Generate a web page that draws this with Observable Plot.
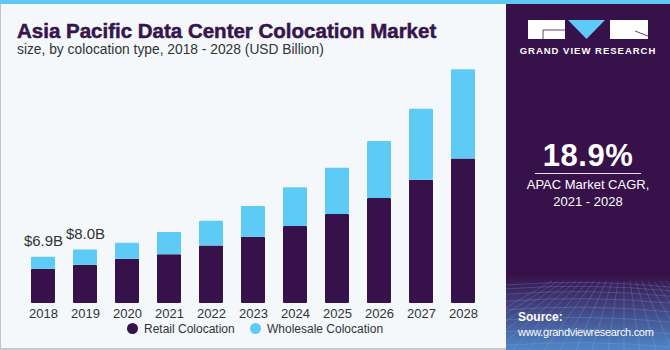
<!DOCTYPE html>
<html><head><meta charset="utf-8">
<script src="https://cdn.jsdelivr.net/npm/d3@7"></script>
<script src="https://cdn.jsdelivr.net/npm/@observablehq/plot@0.6"></script>
<style>
body{margin:0;background:#fff;}
#wrap{position:relative;width:670px;height:350px;overflow:hidden;background:#f4f8fb;font-family:"Liberation Sans",Arial,sans-serif;}
#topbar{position:absolute;left:0;top:0;width:670px;height:4px;background:#5ec8f2;}
#lborder{position:absolute;left:0;top:4px;width:1px;height:346px;background:#c4c4c4;}
#bborder{position:absolute;left:0;top:348px;width:506px;height:2px;background:#c8c8c8;}
#title{position:absolute;left:17px;top:19px;font-size:20.5px;font-weight:bold;color:#37144b;white-space:nowrap;-webkit-text-stroke:0.5px #37144b;}
#subtitle{position:absolute;left:17px;top:42px;font-size:13.8px;color:#333;white-space:nowrap;}
#chart{position:absolute;left:0;top:60px;}
#legend{position:absolute;left:0;top:321px;width:506px;font-size:12px;color:#333;}
.li{position:absolute;top:0;white-space:nowrap;line-height:16px;}
.dot{display:inline-block;width:11px;height:11px;border-radius:50%;vertical-align:-1px;margin-right:6px;}
#right{position:absolute;left:506px;top:3px;width:164px;height:347px;background:#37114a;color:#fff;}
#bigpct{position:absolute;left:0;width:164px;top:135px;text-align:center;font-size:31px;font-weight:bold;letter-spacing:0.5px;}
#rule{position:absolute;left:29px;top:170px;width:106px;height:1px;background:#e8e0ee;}
#cagr{position:absolute;left:0;width:164px;top:173px;text-align:center;font-size:13px;line-height:17px;}
#source{position:absolute;left:12px;top:307px;font-size:11px;line-height:15px;letter-spacing:-0.3px;}
#source b{font-size:12px;letter-spacing:0;}
</style></head><body>
<div id="wrap">
  <div id="lborder"></div>
  <div id="bborder"></div>
  <div id="title">Asia Pacific Data Center Colocation Market</div>
  <div id="subtitle">size, by colocation type, 2018 - 2028 (USD Billion)</div>
  <div id="chart"></div>
  <div id="legend"></div>
  <div id="right">
    <svg id="deco" width="164" height="347" style="position:absolute;left:0;top:0"></svg>
    <div id="bigpct">18.9%</div>
    <div id="rule"></div>
    <div id="cagr">APAC Market CAGR,<br>2021 - 2028</div>
    <div id="source"><b>Source:</b><br>www.grandviewresearch.com</div>
  </div>
  <div id="topbar"></div>
</div>
<script>
const years = ["2018","2019","2020","2021","2022","2023","2024","2025","2026","2027","2028"];
const retail =    [5.1, 5.7, 6.6, 7.3, 8.6, 9.9, 11.5, 13.3, 15.7, 18.4, 21.6];
const wholesale = [1.8, 2.3, 2.4, 3.3, 3.7, 4.6, 5.8, 6.9, 8.5, 10.6, 13.3];
const segments = ["Retail Colocation", "Wholesale Colocation"];
const segmentColors = ["#37114a", "#5ecbf6"];
const labelYears = ["2018", "2019"];
const labelTexts = ["$6.9B", "$8.0B"];

const rows = [];
years.forEach((y, i) => {
  rows.push({year: y, segment: segments[0], value: retail[i]});
  rows.push({year: y, segment: segments[1], value: wholesale[i]});
});
const labels = labelYears.map((y, k) => {
  const i = years.indexOf(y);
  return {year: y, total: retail[i] + wholesale[i], text: labelTexts[k]};
});

const chart = Plot.plot({
  width: 505,
  height: 265,
  marginLeft: 22,
  marginRight: 21,
  marginTop: 2,
  marginBottom: 22,
  style: {background: "transparent", fontFamily: "Liberation Sans, Arial, sans-serif", fontSize: "13px", color: "#333"},
  x: {domain: years, paddingInner: 0.43, paddingOuter: 0.215, label: null, tickSize: 0, tickPadding: 5},
  y: {domain: [0, 36], axis: null},
  color: {domain: segments, range: segmentColors},
  marks: [
    Plot.barY(rows, {x: "year", y: "value", fill: "segment", rx: 1}),
    Plot.text(labels, {x: "year", y: "total", text: "text", dy: -16, fontSize: 15, fill: "#333"})
  ]
});
document.getElementById("chart").appendChild(chart);

const legend = document.getElementById("legend");
const legendX = [127, 250];
segments.forEach((s, i) => {
  const d = document.createElement("div");
  d.className = "li";
  d.style.left = legendX[i] + "px";
  d.innerHTML = `<span class="dot" style="background:${segmentColors[i]}"></span>${s}`;
  legend.appendChild(d);
});

// decoration on right panel: logo + grid backdrop
const deco = d3.select("#deco");
const defs = deco.append("defs");
const g = defs.append("linearGradient").attr("id", "gb").attr("x1", 0).attr("y1", 0).attr("x2", 0).attr("y2", 1);
g.append("stop").attr("offset", "0").attr("stop-color", "#37114a");
g.append("stop").attr("offset", "1").attr("stop-color", "#4f86c8");
deco.append("rect").attr("x", 0).attr("y", 272).attr("width", 164).attr("height", 75).attr("fill", "url(#gb)");
const grid = deco.append("g").attr("stroke", "#9cc4ee").attr("stroke-opacity", 0.35).attr("stroke-width", 0.6).attr("fill", "none");
for (let k = 0; k < 10; k++) {
  const yy = 282 + k * k * 0.8 + k * 3;
  grid.append("path").attr("d", `M0,${yy} Q82,${yy - 6} 164,${yy + 2}`);
}
for (let k = -6; k < 16; k++) {
  grid.append("line").attr("x1", 82 + k * 6).attr("y1", 278).attr("x2", 82 + k * 16 - 60).attr("y2", 347);
}
// logo
const lg = deco.append("g");
lg.append("rect").attr("x", 22).attr("y", 17).attr("width", 37).attr("height", 19).attr("fill", "#fff");
lg.append("path").attr("d", "M37,27 L59,27 M37,27 L37,36").attr("stroke", "#37114a").attr("stroke-width", 0.8).attr("fill", "none");
lg.append("path").attr("d", "M62,17 L99,17 L80.5,36 Z").attr("fill", "#5ecbf6");
lg.append("rect").attr("x", 104).attr("y", 17).attr("width", 38).attr("height", 19).attr("fill", "#fff");
lg.append("path").attr("d", "M129,28 L142,33").attr("stroke", "#37114a").attr("stroke-width", 0.8);
lg.append("text").attr("x", 82).attr("y", 51).attr("text-anchor", "middle").attr("fill", "#fff")
  .attr("font-size", 9.5).attr("font-weight", "bold").attr("letter-spacing", 1)
  .attr("font-family", "Liberation Sans, Arial, sans-serif").text("GRAND VIEW RESEARCH");
</script>
</body></html>
